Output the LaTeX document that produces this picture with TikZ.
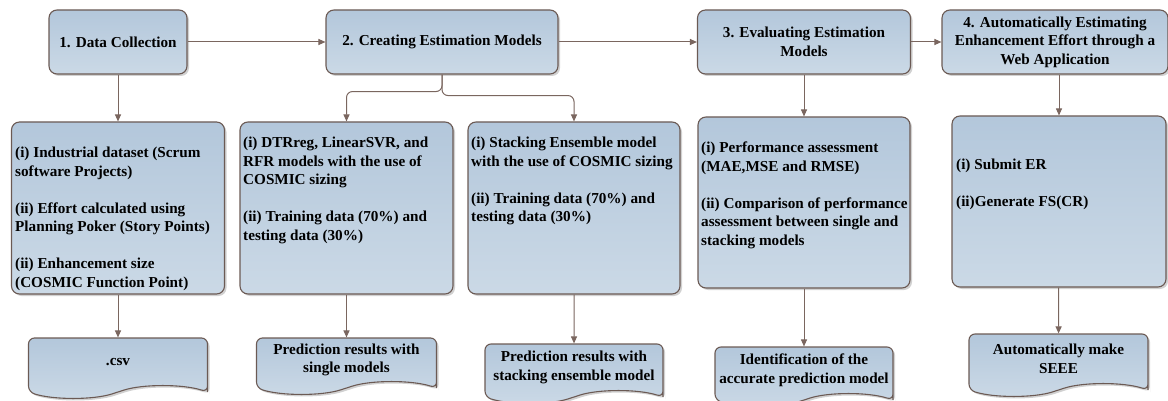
\documentclass[tikz,border=0pt]{standalone}
\usepackage{fontspec}
\setmainfont{Liberation Serif}
\usetikzlibrary{arrows.meta}
\usetikzlibrary{shapes.symbols}
\usetikzlibrary{shadows}
\definecolor{boxtop}{HTML}{B3C7DB}
\definecolor{boxbot}{HTML}{CBD9E6}
\definecolor{boxedge}{HTML}{6B5A54}
\definecolor{linkcol}{HTML}{7A665F}

\begin{document}
\begin{tikzpicture}[x=1pt, y=-1pt,
  font=\fontsize{15.2}{18.5}\selectfont\bfseries,
  stage/.style={rectangle, rounded corners=8pt, draw=boxedge, line width=1.1pt,
    top color=boxtop, bottom color=boxbot,
    drop shadow={shadow xshift=2pt, shadow yshift=-2pt, fill=black, opacity=0.18},
    align=center, inner sep=2pt, minimum height=64pt},
  task/.style={stage, minimum width=213pt, minimum height=172pt},
  result/.style={tape, tape bend top=none, tape bend bottom=in and out, tape bend height=12pt,
    rounded corners=6pt, draw=boxedge, line width=1.1pt,
    top color=boxtop, bottom color=boxbot,
    drop shadow={shadow xshift=2pt, shadow yshift=-2pt, fill=black, opacity=0.18},
    align=center, inner sep=2pt, minimum width=179pt, minimum height=60pt},
  itemtext/.style={anchor=north west, align=left, inner sep=0pt},
  flow/.style={draw=linkcol, line width=1pt, -{Triangle[length=7pt,width=6pt]}}
]
\useasboundingbox (0,0) rectangle (1168,401);

% stages
\node[stage, minimum width=138pt] (h1) at (118,42) {1. Data Collection};
\node[stage, minimum width=232pt] (h2) at (442,42) {2. Creating Estimation Models};
\node[stage, minimum width=213pt] (h3) at (804,42) {3. Evaluating Estimation\\Models};
\node[stage, minimum width=226pt] (h4) at (1055,42) {4. Automatically Estimating\\Enhancement Effort through a\\Web Application};

% tasks
\node[task] (m1) at (118,208) {};
\node[task] (m2) at (346.5,208) {};
\node[task, minimum width=212pt] (m3) at (574,208) {};
\node[task, minimum width=212pt, minimum height=171pt] (m4) at (804,202.5) {};
\node[task, minimum width=214pt, minimum height=171pt] (m5) at (1059,201.5) {};

\node[itemtext] (m1text) at (15,147) {(i) Industrial dataset (Scrum\\software Projects)\\[18.5pt](ii) Effort calculated using\\Planning Poker (Story Points)\\[18.5pt](ii) Enhancement size\\(COSMIC Function Point)};
\node[itemtext] (m2text) at (243,137) {(i) DTRreg, LinearSVR, and\\RFR models with the use of\\COSMIC sizing\\[18.5pt](ii) Training data (70\%) and\\testing data (30\%)};
\node[itemtext] (m3text) at (471,137) {(i) Stacking Ensemble model\\with the use of COSMIC sizing\\[18.5pt](ii) Training data (70\%) and\\testing data (30\%)};
\node[itemtext] (m4text) at (701,142) {(i) Performance assessment\\(MAE,MSE and RMSE)\\[18.5pt](ii) Comparison of performance\\assessment between single and\\stacking models};
\node[itemtext] (m5text) at (956,159) {(i) Submit ER\\[18.5pt](ii)Generate FS(CR)};

% results
\node[result] (b1) at (118,362) {.csv};
\node[result, minimum width=180pt, minimum height=56pt] (b2) at (346.5,360) {Prediction results with\\single models};
\node[result, minimum width=178pt, minimum height=59pt] (b3) at (574,367.5) {Prediction results with\\stacking ensemble model};
\node[result, minimum width=178pt, minimum height=59pt] (b4) at (804,370.5) {Identification of the\\accurate prediction model};
\node[result, minimum height=62pt] (b5) at (1058.5,359) {Automatically make\\SEEE};

% connectors
\draw[flow] (h1) -- (h2);
\draw[flow] (h2) -- (h3);
\draw[flow] (h3) -- (h4);
\draw[flow] (h1) -- (m1);
\draw[flow] (m1) -- (b1);
\draw[flow, rounded corners=6pt] (h2.south) -- ++(0,17) -| (m2.north);
\draw[flow, rounded corners=6pt] (h2.south) -- ++(0,21) -| (m3.north);
\draw[flow] (m2) -- (b2);
\draw[flow] (m3) -- (b3);
\draw[flow] (h3) -- (m4);
\draw[flow] (m4) -- (b4);
\draw[flow] (h4.south -| m5.north) -- (m5.north);
\draw[flow] (m5) -- (b5);
\end{tikzpicture}
\end{document}
